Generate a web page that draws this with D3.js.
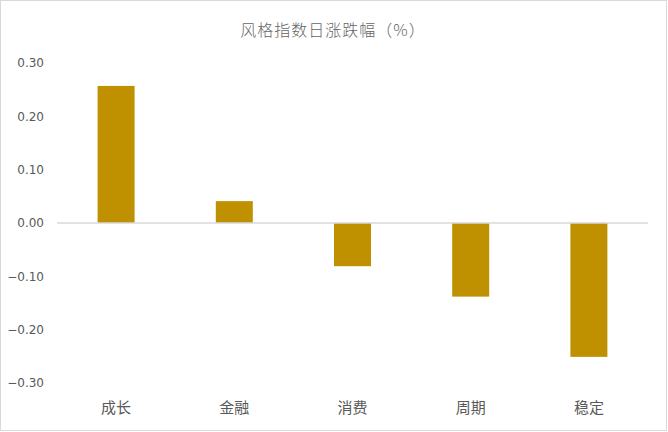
<!DOCTYPE html>
<html><head><meta charset="utf-8">
<script src="https://cdn.jsdelivr.net/npm/d3@7"></script>
<style>body{margin:0;background:#fff;}svg{display:block;}</style>
</head><body>
<script>
const categories = ["成长","金融","消费","周期","稳定"];
const values = [0.257, 0.041, -0.081, -0.138, -0.251];
const yTicks = [0.30, 0.20, 0.10, 0.00, -0.10, -0.20, -0.30];
const title = "风格指数日涨跌幅（%）";

const W = 668, H = 432;
const svg = d3.select("body").append("svg").attr("width", W).attr("height", H);
svg.append("rect").attr("x",0.5).attr("y",0.5).attr("width",W-2).attr("height",H-2)
  .attr("fill","#fff").attr("stroke","#d9d9d9").attr("stroke-width",1);

const font = "'Microsoft YaHei','Noto Sans CJK SC',sans-serif";
const x = d3.scaleBand().domain(categories).range([57, 648]).paddingInner(0.687).paddingOuter(0.3435);
const y = d3.scaleLinear().domain([-0.3, 0.3]).range([383, 63]);

svg.append("text").attr("x", 333).attr("y", 36).attr("text-anchor","middle")
  .attr("font-family", font).attr("font-size", 16).attr("font-weight", 300)
  .attr("letter-spacing", 1).attr("fill","#666666").text(title);

const yAxis = svg.append("g").attr("transform","translate(57,0)")
  .call(d3.axisLeft(y).tickValues(yTicks).tickFormat(d3.format(".2f")).tickSize(0).tickPadding(13));
yAxis.select(".domain").remove();
yAxis.selectAll("text").attr("font-family","'DejaVu Sans',sans-serif")
  .attr("font-size",12).attr("fill","#595959");

svg.selectAll("rect.bar").data(values).join("rect").attr("class","bar")
  .attr("x",(d,i)=>x(categories[i])).attr("width",x.bandwidth())
  .attr("y",d=>y(Math.max(0,d))).attr("height",d=>Math.abs(y(d)-y(0)))
  .attr("fill","#bf9000");

svg.append("line").attr("x1",57).attr("x2",648).attr("y1",y(0)).attr("y2",y(0))
  .attr("stroke","#d9d9d9").attr("stroke-width",1.5);

const xAxis = svg.append("g").attr("transform","translate(0,408)")
  .call(d3.axisBottom(x).tickSize(0).tickPadding(0));
xAxis.select(".domain").remove();
xAxis.selectAll("text").attr("font-family",font).attr("font-size",15).attr("fill","#595959").attr("dy","0.35em");
</script>
</body></html>
